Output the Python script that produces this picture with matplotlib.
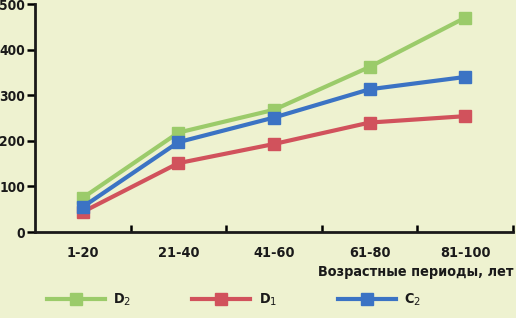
import numpy as np
import matplotlib.pyplot as plt

periods = ["1-20", "21-40", "41-60", "61-80", "81-100"]
d2 = [75, 218, 268, 362, 470]
d1 = [44, 151, 193, 240, 254]
c2 = [55, 197, 251, 313, 340]

BG = "#EEF2D0"
INK = "#1a1a1a"
FONT = {"family": "DejaVu Sans", "stretch": "condensed", "weight": "bold", "size": 10.4}
YFONT = dict(FONT, size=9.8)

fig = plt.figure(figsize=(5.16, 3.18), dpi=100, facecolor=BG)
ax = fig.add_axes([35 / 516, 1 - 232 / 318, 478 / 516, 228 / 318], facecolor=BG)

x = np.arange(len(periods))
series = [
    ("D$_2$", d2, "#9BCB6A"),
    ("D$_1$", d1, "#D1525C"),
    ("C$_2$", c2, "#3B73C4"),
]
for label, vals, color in series:
    ax.plot(x, vals, color=color, lw=3, marker="s", ms=9, label=label)

ax.set_xlim(-0.5, 4.5)
ax.set_ylim(0, 500)
ax.set_yticks(range(0, 501, 100))
ax.set_xticks(x)
ax.set_xticklabels(periods)
ax.set_xticks(np.arange(0.5, 5, 1), minor=True)
ax.tick_params(axis="x", which="major", length=0, pad=10)
ax.tick_params(axis="x", which="minor", length=5, width=1.8, direction="in")
ax.tick_params(axis="y", length=6, width=1.8, pad=1)
for lbl in ax.get_xticklabels():
    lbl.set_fontproperties(FONT)
    lbl.set_color(INK)
for lbl in ax.get_yticklabels():
    lbl.set_fontproperties(YFONT)
    lbl.set_color(INK)

for side in ["top", "right"]:
    ax.spines[side].set_visible(False)
for side in ["left", "bottom"]:
    ax.spines[side].set_linewidth(2)
    ax.spines[side].set_color(INK)

fig.text(0.995, 1 - 272 / 318, "Возрастные периоды, лет", ha="right", va="center",
         fontproperties=FONT, color=INK)

leg = fig.legend(loc="center left", bbox_to_anchor=(34 / 516, 1 - 300 / 318), ncol=3,
                 frameon=False, handlelength=4.0, handletextpad=0.6, columnspacing=4.2,
                 prop=FONT)
for t in leg.get_texts():
    t.set_color(INK)

fig.savefig("out.png", dpi=100, facecolor=BG)
